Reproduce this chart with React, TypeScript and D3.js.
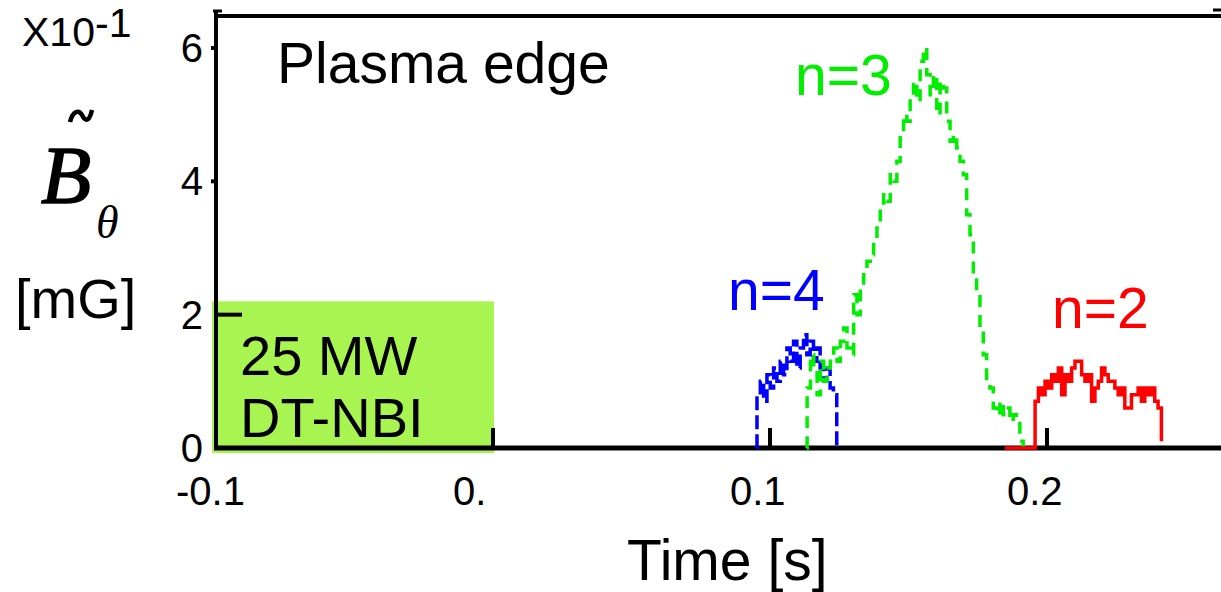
import React, { useRef, useEffect } from 'react';
import * as d3 from 'd3';

// sample grids (s) and readings (x10^-1 mG)
const n4Start = 0.0953;
const n4Step = 0.0012;
const n4Values = [
  0.8, 1.0, 0.7, 1.1, 0.9, 1.2, 1.0, 1.3, 1.1, 1.5, 1.3, 1.6, 1.2, 1.5, 1.7, 1.4,
  1.6, 1.3, 1.5, 1.2, 1.0, 1.2, 0.9, 0.8,
];

const n3Start = 0.1134;
const n3Step = 0.0012;
const n3Values = [
  0.9, 1.4, 1.2, 0.8, 1.3, 1.0, 1.2, 1.3, 1.5, 1.3, 1.6, 1.8, 1.5, 1.4, 2.3, 2.0,
  2.4, 2.6, 2.8, 2.9, 3.1, 3.3, 3.6, 3.8, 3.7, 4.1, 4.0, 4.3, 4.7, 5.0, 4.9, 5.3,
  5.5, 5.2, 5.8, 6.0, 5.6, 5.3, 5.6, 5.0, 5.5, 5.4, 4.9, 4.6, 4.7, 4.5, 4.3, 4.1,
  3.5, 3.2, 2.6, 2.3, 1.8, 1.4, 1.0, 0.9, 0.6, 0.5, 0.7, 0.5, 0.6, 0.4, 0.5, 0.4,
  0.1,
];

const n2Start = 0.1957;
const n2Step = 0.0012;
const n2Values = [
  0.7, 0.9, 0.8, 1.0, 0.9, 1.1, 1.0, 1.2, 0.8, 1.1, 1.0, 1.2, 1.3, 1.3, 1.1, 1.0,
  1.1, 0.7, 0.9, 1.0, 1.2, 1.1, 1.0, 1.0, 0.9, 0.8, 0.9, 0.6, 0.6, 0.8, 0.8, 0.9,
  0.7, 0.9, 0.8, 0.9, 0.7, 0.6, 0.1,
];
const n2BaseStart = 0.1848;

const xTicks = [-0.1, 0, 0.1, 0.2];
const xTickLabels = ['-0.1', '0.', '0.1', '0.2'];
const yTicks = [0, 2, 4, 6];
const nbiWindow = [-0.1, 0.0];
const nbiLevel = 2.2;

type Pt = { t: number; v: number };

const toSeries = (start: number, step: number, vals: number[]): Pt[] =>
  vals.map((v, i) => ({ t: start + i * step, v }));

const App = () => {
  const ref = useRef<SVGSVGElement | null>(null);

  useEffect(() => {
    const width = 1221;
    const height = 592;
    const left = 216;
    const bottom = 448;
    const top = 16;

    const svg = d3.select(ref.current);
    svg.selectAll('*').remove();

    const x = d3.scaleLinear().domain([-0.1, 0.2]).range([216, 1047]);
    const y = d3.scaleLinear().domain([0, 6]).range([bottom, 48]);

    const sans = 'Liberation Sans, Arial, sans-serif';
    const serif = 'Liberation Serif, Times New Roman, serif';

    // NBI box
    svg
      .append('rect')
      .attr('x', x(nbiWindow[0]) - 4)
      .attr('y', y(nbiLevel))
      .attr('width', x(nbiWindow[1]) - x(nbiWindow[0]) + 5)
      .attr('height', y(0) - y(nbiLevel) + 5)
      .attr('fill', '#a8f552');

    const line = d3
      .line<Pt>()
      .curve(d3.curveStepAfter)
      .x((d) => x(d.t))
      .y((d) => y(d.v));

    const n4 = [
      { t: n4Start - 0.0001, v: 0 },
      ...toSeries(n4Start, n4Step, n4Values),
      { t: n4Start + n4Values.length * n4Step, v: 0 },
    ];
    const n3 = [
      { t: n3Start - 0.0001, v: 0 },
      ...toSeries(n3Start, n3Step, n3Values),
      { t: n3Start + n3Values.length * n3Step, v: 0 },
    ];
    const n2 = [
      { t: n2BaseStart, v: 0 },
      ...toSeries(n2Start, n2Step, n2Values),
    ];

    // axes frame
    const axis = svg.append('g').attr('stroke', '#000').attr('fill', 'none');
    axis
      .append('line')
      .attr('x1', left)
      .attr('x2', left)
      .attr('y1', 10)
      .attr('y2', bottom + 2)
      .attr('stroke-width', 4);
    axis
      .append('line')
      .attr('x1', left - 2)
      .attr('x2', width)
      .attr('y1', bottom)
      .attr('y2', bottom)
      .attr('stroke-width', 5);
    axis
      .append('line')
      .attr('x1', left)
      .attr('x2', width)
      .attr('y1', top)
      .attr('y2', top)
      .attr('stroke-width', 4);
    axis
      .append('line')
      .attr('x1', left - 3)
      .attr('x2', left + 6)
      .attr('y1', 11)
      .attr('y2', 11)
      .attr('stroke-width', 3);
    axis
      .append('line')
      .attr('x1', 1213)
      .attr('x2', width)
      .attr('y1', 10)
      .attr('y2', 10)
      .attr('stroke-width', 3);

    // x ticks (inward)
    axis
      .selectAll('.xt')
      .data(xTicks.slice(1))
      .join('line')
      .attr('x1', (d) => x(d))
      .attr('x2', (d) => x(d))
      .attr('y1', bottom)
      .attr('y2', bottom - 20)
      .attr('stroke-width', 4);

    // y ticks
    axis
      .selectAll('.yt')
      .data(yTicks.slice(1))
      .join('line')
      .attr('x1', (d) => (d === 2 ? left : left - 5))
      .attr('x2', (d) => (d === 2 ? left + 26 : left))
      .attr('y1', (d) => y(d))
      .attr('y2', (d) => y(d))
      .attr('stroke-width', 4);

    // series
    svg
      .append('path')
      .datum(n4)
      .attr('fill', 'none')
      .attr('stroke', '#0000ff')
      .attr('stroke-width', 3.5)
      .attr('stroke-dasharray', '14 5')
      .attr('d', line);

    svg
      .append('path')
      .datum(n3)
      .attr('fill', 'none')
      .attr('stroke', '#00ee00')
      .attr('stroke-width', 3.5)
      .attr('stroke-dasharray', '12 8')
      .attr('d', line);

    svg
      .append('path')
      .datum(n2)
      .attr('fill', 'none')
      .attr('stroke', '#ff0000')
      .attr('stroke-width', 3.5)
      .attr('d', line);

    // tick labels
    svg
      .selectAll('.xl')
      .data(xTicks)
      .join('text')
      .attr('x', (d) => x(d) - 40)
      .attr('y', 505)
      .attr('font-family', sans)
      .attr('font-size', 40)
      .text((d, i) => xTickLabels[i]);

    svg
      .selectAll('.yl')
      .data(yTicks)
      .join('text')
      .attr('x', 203)
      .attr('y', (d) => y(d) + 14)
      .attr('text-anchor', 'end')
      .attr('font-family', sans)
      .attr('font-size', 40)
      .text((d) => d);

    const label = (
      txt: string,
      px: number,
      py: number,
      size: number,
      color = '#000',
      family = sans
    ) =>
      svg
        .append('text')
        .attr('x', px)
        .attr('y', py)
        .attr('font-family', family)
        .attr('font-size', size)
        .attr('fill', color)
        .text(txt);

    label('Time [s]', 627, 580, 57);
    label('Plasma edge', 277, 83, 57);
    label('n=3', 795, 95, 57, '#00ee00');
    label('n=4', 728, 310, 57, '#0000ff');
    label('n=2', 1052, 328, 57, '#ff0000');
    label('25 MW', 240, 375, 56);
    label('DT-NBI', 240, 437, 56);

    // y unit label
    label('X10', 22, 46, 41);
    label('-1', 95, 37, 41);
    label('B', 41, 203, 82, '#000', serif)
      .attr('font-style', 'italic')
      .attr('stroke', '#000')
      .attr('stroke-width', 1.6);
    const tilde = d3.path();
    tilde.moveTo(70, 122);
    tilde.bezierCurveTo(73, 110, 79, 110, 82, 115);
    tilde.bezierCurveTo(85, 121, 89, 123, 92, 110);
    svg
      .append('path')
      .attr('d', tilde.toString())
      .attr('fill', 'none')
      .attr('stroke', '#000')
      .attr('stroke-width', 4.5);
    label('\u03b8', 96, 238, 46, '#000', serif).attr('font-style', 'italic');
    label('[mG]', 15, 318, 56);

    svg.attr('width', width).attr('height', height);
  }, []);

  return (
    <svg
      ref={ref}
      style={{ position: 'absolute', left: 0, top: 0, background: '#fff' }}
    />
  );
};

export default App;
